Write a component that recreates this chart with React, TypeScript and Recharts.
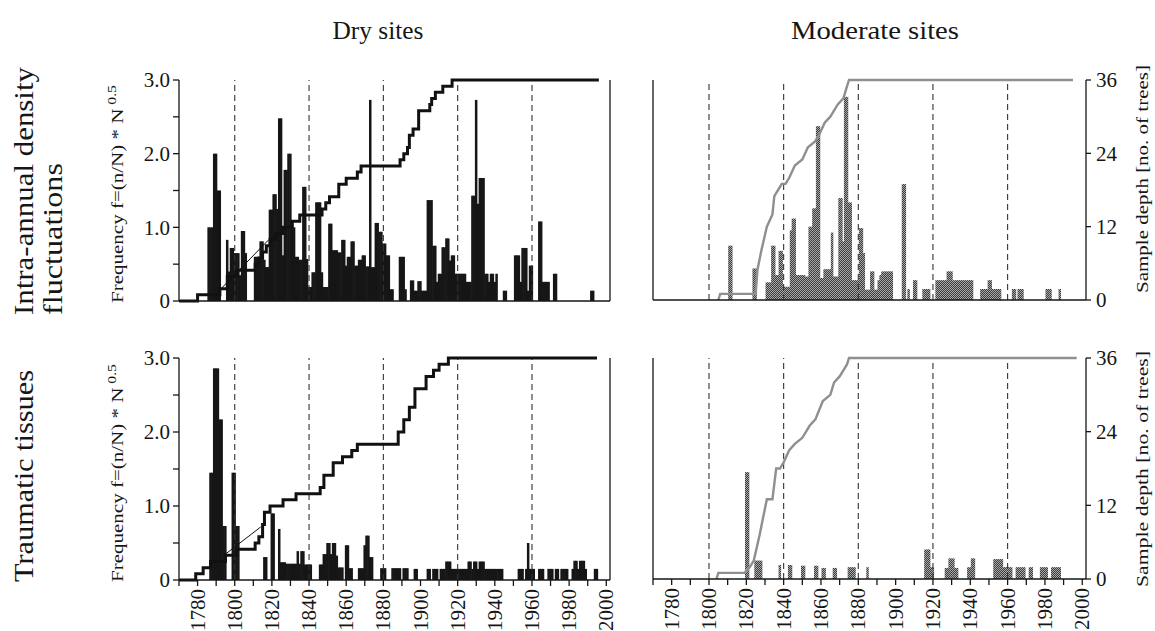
import React from 'react';
import { ComposedChart, Bar, Line, XAxis, YAxis, ReferenceLine } from 'recharts';

// ---------- axes ----------
const xTicks = [1770, 1780, 1790, 1800, 1810, 1820, 1830, 1840, 1850, 1860, 1870, 1880, 1890, 1900, 1910, 1920, 1930, 1940, 1950, 1960, 1970, 1980, 1990, 2000];
const xLabelYears = [1780, 1800, 1820, 1840, 1860, 1880, 1900, 1920, 1940, 1960, 1980, 2000];
const freqTicks = [0, 0.5, 1, 1.5, 2, 2.5, 3];
const depthTicks = [0, 12, 24, 36];
const dashedYears = [1800, 1840, 1880, 1920, 1960];

// ---------- Dry sites, intra-annual density fluctuations ----------
const dryIadfStart = 1786;
const dryIadfFreq = [
  1.0, 1.0, 1.0, 2.0, 2.0, 1.5, 1.5, 0, 0, 0,
  0.83, 0.4, 0.72, 0.72, 0.65, 0.65, 0.65, 0.35, 0.95, 0.95,
  0.65, 0, 0, 0, 0, 0.6, 0.6, 0.6, 0.81, 0.81,
  0.56, 0.46, 0.46, 1.24, 1.24, 1.45, 1.45, 1.25, 2.48, 2.48,
  0.62, 1.78, 1.78, 2.0, 2.0, 1.0, 1.0, 0.6, 0.6, 0.56,
  0.56, 1.55, 1.55, 0.57, 0.19, 0.19, 0.39, 0.39, 1.34, 1.34,
  1.34, 0.39, 0.19, 0.19, 0.19, 1.05, 1.05, 0.69, 0.69, 0.69,
  0.66, 0.66, 0.83, 0.83, 0.48, 0.6, 0.6, 0.81, 0.81, 0.48,
  0.48, 0.56, 0.56, 0.62, 0.62, 0.47, 0.47, 2.73, 0.46, 0.46,
  1.06, 1.06, 0.94, 0.94, 0.78, 0.78, 0.62, 0.62, 0.16, 0.16,
  0, 0, 0, 0.6, 0.6, 0.6, 0.16, 0, 0, 0.28,
  0.28, 0.14, 0.14, 0.27, 0.27, 0.14, 0.14, 0.14, 1.37, 1.37,
  1.37, 0.75, 0.75, 0.26, 0.37, 0.37, 0.73, 0.73, 0.85, 0.85,
  0.55, 0.62, 0.62, 0.37, 0.37, 0.37, 0.37, 0.37, 0.37, 0.26,
  0.26, 0.26, 1.43, 1.43, 2.73, 1.32, 1.67, 1.67, 1.67, 0.37,
  0.37, 0.26, 0.37, 0.37, 0.26, 0.37, 0, 0, 0, 0.14,
  0.14, 0, 0, 0, 0, 0.62, 0.62, 0.62, 0.26, 0.72,
  0.72, 0.72, 0.14, 0.48, 0.48, 0, 0, 0, 1.08, 1.08,
  0.26, 0.26, 0.26, 0.26, 0, 0, 0.37, 0.37, 0, 0,
  0, 0, 0, 0, 0, 0, 0, 0, 0, 0,
  0, 0, 0, 0, 0, 0, 0.14, 0.14,
];
const dryIadfDepthYears = [1770, 1780, 1792, 1796, 1801, 1811, 1813, 1815, 1817, 1819, 1822, 1826, 1831, 1835, 1847, 1849, 1851, 1856, 1860, 1866, 1868, 1889, 1891, 1893, 1894, 1896, 1899, 1905, 1906, 1908, 1912, 1917, 1996];
const dryIadfDepth = [0, 1, 2, 4, 5, 6, 7, 8, 9, 10, 11, 12, 13, 14, 15, 16, 17, 19, 20, 21, 22, 23, 24, 25, 27, 28, 31, 32, 33, 34, 35, 36, 36];
const dryIadfThinYears = [1792, 1818];
const dryIadfThin = [1.8, 9.9];

// ---------- Dry sites, traumatic tissues ----------
const dryTraumStart = 1787;
const dryTraumFreq = [
  1.45, 1.45, 2.86, 2.86, 2.86, 2.17, 2.17, 0.73, 0.73, 0,
  0, 0, 1.45, 1.45, 0.73, 0.73, 0, 0, 0, 0,
  0, 0, 0, 0, 0, 0, 0, 0, 0, 0.31,
  0.31, 0, 0, 0.9, 0.9, 0, 0, 0.69, 0.24, 0.24,
  0.24, 0.22, 0.22, 0.22, 0.22, 0.22, 0.22, 0.39, 0.22, 0.39,
  0.39, 0.21, 0.21, 0.21, 0.21, 0, 0, 0, 0, 0.21,
  0.21, 0.35, 0.35, 0.5, 0.5, 0.35, 0.5, 0.5, 0.33, 0.17,
  0.17, 0.17, 0, 0.47, 0.47, 0.16, 0.16, 0, 0, 0,
  0.16, 0.16, 0.16, 0.47, 0.6, 0.6, 0.31, 0.31, 0, 0,
  0, 0, 0.16, 0.16, 0.16, 0, 0, 0, 0.16, 0.16,
  0.16, 0.16, 0.16, 0, 0.16, 0.16, 0.16, 0, 0, 0,
  0.15, 0.15, 0, 0, 0, 0, 0, 0.15, 0.15, 0,
  0.15, 0.15, 0.15, 0, 0.15, 0.15, 0.15, 0.25, 0.25, 0.25,
  0.15, 0.15, 0.15, 0.15, 0.15, 0.15, 0.15, 0.15, 0.15, 0.25,
  0.25, 0.15, 0.25, 0.25, 0.15, 0.25, 0.25, 0.25, 0.15, 0.15,
  0.15, 0.15, 0.15, 0.15, 0.15, 0.15, 0.15, 0.15, 0, 0,
  0, 0, 0, 0, 0, 0, 0.15, 0.15, 0.15, 0,
  0.15, 0.5, 0.15, 0.15, 0.15, 0, 0, 0.15, 0.15, 0.15,
  0, 0, 0.15, 0.15, 0.15, 0, 0.15, 0.15, 0, 0.15,
  0.15, 0.15, 0.15, 0, 0, 0.15, 0.26, 0.26, 0.15, 0.26,
  0.26, 0.26, 0.15, 0, 0, 0, 0, 0.15, 0.15,
];
const dryTraumDepthYears = [1770, 1779, 1783, 1787, 1795, 1801, 1811, 1813, 1815, 1816, 1819, 1826, 1833, 1846, 1848, 1853, 1858, 1863, 1866, 1888, 1891, 1894, 1897, 1903, 1907, 1910, 1915, 1995];
const dryTraumDepth = [0, 1, 2, 3, 4, 5, 6, 7, 9, 11, 12, 13, 14, 15, 17, 19, 20, 21, 22, 24, 26, 28, 31, 33, 34, 35, 36, 36];
const dryTraumThinYears = [1795, 1814];
const dryTraumThin = [4.2, 8.6];

// ---------- Moderate sites, intra-annual density fluctuations ----------
const modIadfStart = 1811;
const modIadfFreq = [
  0.74, 0.74, 0, 0, 0, 0, 0, 0, 0, 0,
  0, 0, 0, 0.43, 0.43, 0, 0, 0, 0, 0,
  0.24, 0.24, 0.24, 0.74, 0.74, 0.34, 0.34, 0.67, 0.67, 0.18,
  0.18, 0.18, 0.18, 0.95, 1.11, 1.11, 0.34, 0.34, 0.34, 0.34,
  0.34, 0.32, 0.32, 1.0, 1.0, 1.25, 1.25, 2.37, 2.37, 0.3,
  0.3, 0.42, 0.42, 0.42, 0.42, 0.92, 0.32, 0.32, 0.32, 1.39,
  1.39, 0.8, 2.77, 2.77, 1.33, 1.33, 0.27, 0.27, 0.27, 0.27,
  0.98, 0.98, 0.64, 0.14, 0.14, 0.14, 0.39, 0.39, 0.14, 0.14,
  0.27, 0.34, 0.39, 0.39, 0.39, 0.39, 0.39, 0.39, 0, 0,
  0, 0, 0, 1.58, 1.58, 0, 0.15, 0, 0, 0.27,
  0.27, 0, 0, 0, 0.15, 0.15, 0.15, 0.15, 0, 0,
  0, 0.27, 0.27, 0.27, 0.27, 0.27, 0.27, 0.39, 0.39, 0.39,
  0.27, 0.27, 0.27, 0.27, 0.27, 0.27, 0.27, 0.27, 0.27, 0.27,
  0.27, 0, 0, 0, 0, 0.15, 0.15, 0.15, 0.15, 0.27,
  0.27, 0.15, 0.15, 0.15, 0.15, 0.15, 0, 0, 0, 0,
  0, 0, 0.15, 0.15, 0, 0.15, 0.15, 0.15, 0, 0,
  0, 0, 0, 0, 0, 0, 0, 0, 0, 0,
  0.15, 0.15, 0.15, 0, 0, 0, 0, 0.15,
];
const modIadfDepthYears = [1805, 1806, 1825, 1826, 1828, 1831, 1834, 1835, 1837, 1839, 1841, 1843, 1846, 1850, 1853, 1857, 1859, 1862, 1865, 1869, 1872, 1873, 1875, 1995];
const modIadfDepth = [0, 1, 1, 5, 8, 12, 14, 17, 18, 19, 19, 20, 22, 23, 25, 26, 27, 29, 30, 32, 33, 34, 36, 36];

// ---------- Moderate sites, traumatic tissues ----------
const modTraumStart = 1820;
const modTraumFreq = [
  1.45, 1.45, 0, 0, 0, 0.25, 0.25, 0.25, 0.25, 0,
  0, 0, 0, 0, 0, 0, 0, 0, 0.19, 0,
  0, 0, 0, 0.19, 0.19, 0, 0, 0, 0, 0,
  0.18, 0.18, 0, 0, 0, 0, 0, 0.18, 0.18, 0,
  0, 0.15, 0.15, 0, 0, 0, 0, 0.15, 0.15, 0,
  0, 0, 0, 0, 0, 0.16, 0.16, 0.16, 0.16, 0,
  0, 0, 0, 0, 0, 0.16, 0, 0, 0, 0,
  0, 0, 0, 0, 0, 0, 0, 0, 0, 0,
  0, 0, 0, 0, 0, 0, 0, 0, 0, 0,
  0, 0, 0, 0, 0, 0, 0.4, 0.4, 0.4, 0.16,
  0.16, 0, 0, 0, 0, 0, 0, 0.15, 0.15, 0.28,
  0.28, 0.28, 0.15, 0.15, 0, 0, 0, 0, 0, 0.16,
  0.16, 0.28, 0.28, 0, 0, 0, 0, 0, 0, 0,
  0, 0, 0, 0.27, 0.27, 0.27, 0.27, 0.27, 0.16, 0.16,
  0.16, 0.16, 0.16, 0, 0, 0.16, 0.16, 0.16, 0.16, 0.16,
  0, 0, 0.16, 0.16, 0, 0, 0, 0, 0.16, 0.16,
  0.16, 0.16, 0, 0, 0.16, 0.16, 0.16, 0.16, 0.16,
];
const modTraumDepthYears = [1804, 1805, 1819, 1822, 1824, 1827, 1829, 1831, 1834, 1836, 1838, 1840, 1843, 1846, 1850, 1854, 1857, 1861, 1865, 1867, 1870, 1872, 1874, 1875, 1997];
const modTraumDepth = [0, 1, 1, 2, 3, 7, 10, 13, 13, 18, 18, 19, 21, 22, 23, 25, 26, 29, 30, 32, 33, 34, 35, 36, 36];

// ---------- helpers ----------
function buildRows(start: number, freq: number[], depthYears: number[], depth: number[], thinYears: number[], thin: number[]) {
  const rows: any[] = [];
  for (let y = 1770; y <= 2000; y++) {
    const row: any = { year: y };
    const i = y - start;
    if (i >= 0 && i < freq.length && freq[i] > 0) row.freq = freq[i];
    const j = depthYears.indexOf(y);
    if (j >= 0) row.depth = depth[j];
    const k = thinYears.indexOf(y);
    if (k >= 0) row.thin = thin[k];
    rows.push(row);
  }
  return rows;
}

const SERIF = 'Liberation Serif, Tinos, DejaVu Serif, serif';
const INK = '#161616';

function XTick(props: any) {
  const { x, y, payload } = props;
  const v = payload && payload.value;
  if (!xLabelYears.includes(v)) return <g />;
  return (
    <text x={x} y={y} transform={`rotate(-90 ${x} ${y})`} textAnchor="end" dominantBaseline="central"
      style={{ fontFamily: SERIF, fontSize: 21 }} fill={INK}>{v}</text>
  );
}

function makeBarShape(fill: string) {
  return (props: any) => {
    const { x, y, width, height } = props;
    if (!height || height <= 0) return <g />;
    const cx = x + width / 2;
    return <rect x={cx - 1.25} y={y} width={2.5} height={height} fill={fill} />;
  };
}

type PanelProps = {
  rows: any[]; left: number; top: number; plotW: number; plotH: number;
  showLeft: boolean; showRight: boolean; showX: boolean;
  barColor: string; lineColor: string; lineWidth: number; lineType: any;
};

function Panel(p: PanelProps) {
  const leftW = p.showLeft ? 79 : 20;
  const rightW = p.showRight ? 50 : 20;
  const xH = p.showX ? 51 : 22;
  const width = leftW + p.plotW + rightW;
  const height = 20 + p.plotH + xH;
  const tickStyle = { fontSize: 21, fill: INK, style: { fontFamily: SERIF } };
  return (
    <div style={{ position: 'absolute', left: p.left - leftW, top: p.top - 20 }}>
      <ComposedChart width={width} height={height} data={p.rows}
        margin={{ top: 20, right: 0, bottom: 0, left: 0 }}>
        <XAxis dataKey="year" type="number" domain={[1770, 2002]} ticks={xTicks} interval={0}
          allowDataOverflow height={xH} stroke={INK} strokeWidth={1.3} tickSize={6} tickMargin={3}
          tick={p.showX ? <XTick /> : false} />
        <YAxis yAxisId="f" domain={[0, 3]} ticks={freqTicks} interval={0} width={leftW}
          stroke={INK} strokeWidth={1.3} tickSize={6} tickMargin={3}
          tick={p.showLeft ? tickStyle : false}
          tickFormatter={(v: number) => (v === 0 ? '0' : Number.isInteger(v) ? v.toFixed(1) : '')} />
        <YAxis yAxisId="d" orientation="right" domain={[0, 36]} ticks={depthTicks} interval={0} width={rightW}
          stroke={INK} strokeWidth={1.3} tickSize={5} tickMargin={5}
          tick={p.showRight ? tickStyle : false} />
        {dashedYears.map((y) => (
          <ReferenceLine key={y} x={y} yAxisId="f" stroke="#333" strokeWidth={1.1} strokeDasharray="6 4" />
        ))}
        <Bar yAxisId="f" dataKey="freq" fill={p.barColor} barSize={2} shape={makeBarShape(p.barColor)} isAnimationActive={false} />
        <Line yAxisId="d" dataKey="thin" type="linear" stroke={p.lineColor} strokeWidth={1}
          dot={false} connectNulls isAnimationActive={false} />
        <Line yAxisId="d" dataKey="depth" type={p.lineType} stroke={p.lineColor} strokeWidth={p.lineWidth}
          dot={false} connectNulls isAnimationActive={false} />
      </ComposedChart>
    </div>
  );
}

export default function App() {
  const dryIadfRows = buildRows(dryIadfStart, dryIadfFreq, dryIadfDepthYears, dryIadfDepth, dryIadfThinYears, dryIadfThin);
  const dryTraumRows = buildRows(dryTraumStart, dryTraumFreq, dryTraumDepthYears, dryTraumDepth, dryTraumThinYears, dryTraumThin);
  const modIadfRows = buildRows(modIadfStart, modIadfFreq, modIadfDepthYears, modIadfDepth, [], []);
  const modTraumRows = buildRows(modTraumStart, modTraumFreq, modTraumDepthYears, modTraumDepth, [], []);
  const dry = { barColor: '#161616', lineColor: '#111', lineWidth: 3, lineType: 'stepAfter' };
  const mod = { barColor: 'url(#modStipple)', lineColor: '#8f8f8f', lineWidth: 2.4, lineType: 'linear' };
  const t = { fontFamily: SERIF };
  return (
    <div style={{ position: 'absolute', left: 0, top: 0, width: 1155, height: 631, background: '#fff', overflow: 'hidden', fontFamily: SERIF }}>
      <svg width={0} height={0} style={{ position: 'absolute' }}>
        <defs>
          <pattern id="modStipple" x={0} y={0} width={2} height={2} patternUnits="userSpaceOnUse">
            <rect x={0} y={0} width={2} height={2} fill="#a8a8a8" />
            <rect x={0} y={0} width={1} height={1} fill="#3c3c3c" />
            <rect x={1} y={1} width={1} height={1} fill="#3c3c3c" />
          </pattern>
        </defs>
      </svg>
      <Panel rows={dryTraumRows} left={179} top={358} plotW={431} plotH={222} showLeft showRight={false} showX {...dry} />
      <Panel rows={modTraumRows} left={653} top={358} plotW={433} plotH={221} showLeft={false} showRight showX {...mod} />
      <Panel rows={dryIadfRows} left={179} top={80} plotW={431} plotH={221} showLeft showRight={false} showX={false} {...dry} />
      <Panel rows={modIadfRows} left={653} top={80} plotW={433} plotH={220} showLeft={false} showRight showX={false} {...mod} />
      <svg width={1155} height={631} style={{ position: 'absolute', left: 0, top: 0, pointerEvents: 'none' }}>
        <g fill={INK}>
          <text style={t} x={378} y={39} fontSize={26} textAnchor="middle" textLength={91} lengthAdjust="spacingAndGlyphs">Dry sites</text>
          <text style={t} x={875} y={39} fontSize={26} textAnchor="middle" textLength={168} lengthAdjust="spacingAndGlyphs">Moderate sites</text>
          <text style={t} transform="translate(33 315) rotate(-90)" fontSize={28} textLength={248} lengthAdjust="spacingAndGlyphs">Intra-annual density</text>
          <text style={t} transform="translate(62 315) rotate(-90)" fontSize={28} textLength={152} lengthAdjust="spacingAndGlyphs">fluctuations</text>
          <text style={t} transform="translate(33 582) rotate(-90)" fontSize={28} textLength={212} lengthAdjust="spacingAndGlyphs">Traumatic tissues</text>
          <text style={t} transform="translate(123 303) rotate(-90)" fontSize={16} textLength={218} lengthAdjust="spacingAndGlyphs">
            Frequency f=(n/N) * N<tspan dy={-7} fontSize={12}> 0.5</tspan>
          </text>
          <text style={t} transform="translate(123 582) rotate(-90)" fontSize={16} textLength={218} lengthAdjust="spacingAndGlyphs">
            Frequency f=(n/N) * N<tspan dy={-7} fontSize={12}> 0.5</tspan>
          </text>
          <text style={t} transform="translate(1148 293) rotate(-90)" fontSize={17} textLength={228} lengthAdjust="spacingAndGlyphs">Sample depth [no. of trees]</text>
          <text style={t} transform="translate(1148 587) rotate(-90)" fontSize={17} textLength={236} lengthAdjust="spacingAndGlyphs">Sample depth [no. of trees]</text>
        </g>
      </svg>
    </div>
  );
}
